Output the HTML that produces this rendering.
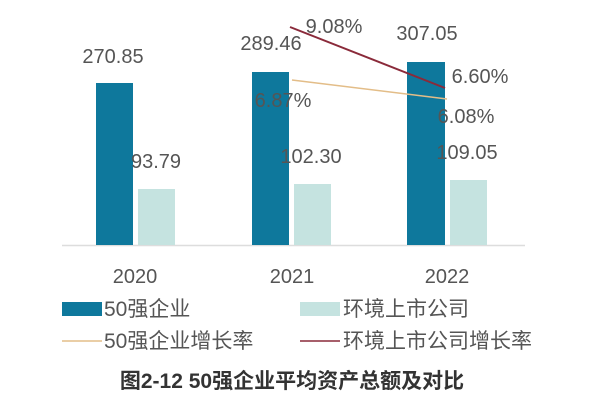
<!DOCTYPE html>
<html><head><meta charset="utf-8"><style>
body{margin:0;background:#fff;}
svg text{font-family:"Liberation Sans","Noto Sans CJK SC",sans-serif;fill:#555;}
</style></head><body>
<svg width="600" height="400" xmlns="http://www.w3.org/2000/svg">
<rect width="600" height="400" fill="#fff"/>
<line x1="62" y1="245.5" x2="525" y2="245.5" stroke="#ddd" stroke-width="1.5"/>
<rect x="96" y="83" width="37" height="162" fill="#0e789c"/>
<rect x="138" y="189" width="37" height="56" fill="#c5e3e0"/>
<rect x="252" y="72" width="37" height="173" fill="#0e789c"/>
<rect x="294" y="184" width="37" height="61" fill="#c5e3e0"/>
<rect x="407" y="62" width="38" height="183" fill="#0e789c"/>
<rect x="450" y="180" width="37" height="65" fill="#c5e3e0"/>
<line x1="292" y1="80" x2="447" y2="99" stroke="#e3bd88" stroke-width="1.5"/>
<line x1="290" y1="27" x2="445" y2="88" stroke="#8a2a3a" stroke-width="2"/>
<g font-size="20" text-anchor="middle">
<text x="113" y="63">270.85</text>
<text x="156" y="168">93.79</text>
<text x="271" y="50">289.46</text>
<text x="334" y="33">9.08%</text>
<text x="427" y="40">307.05</text>
<text x="480" y="83">6.60%</text>
<text x="283" y="107">6.87%</text>
<text x="466" y="123">6.08%</text>
<text x="311" y="163">102.30</text>
<text x="467" y="159">109.05</text>
<text x="135" y="283">2020</text>
<text x="292" y="283">2021</text>
<text x="447" y="283">2022</text>
</g>
<rect x="62" y="302" width="40" height="14" fill="#0e789c"/>
<rect x="300" y="302" width="40" height="14" fill="#c5e3e0"/>
<line x1="62" y1="341" x2="102" y2="341" stroke="#e3bd88" stroke-width="1.5"/>
<line x1="300" y1="341" x2="340" y2="341" stroke="#8a2a3a" stroke-width="1.5"/>
<g font-size="21">
<text x="104" y="316">50强企业</text>
<text x="343" y="316">环境上市公司</text>
<text x="104" y="348">50强企业增长率</text>
<text x="343" y="348">环境上市公司增长率</text>
</g>
<text x="292" y="388" font-size="21" text-anchor="middle" style="fill:#333" font-weight="bold">图2-12 50强企业平均资产总额及对比</text>
</svg>
</body></html>
